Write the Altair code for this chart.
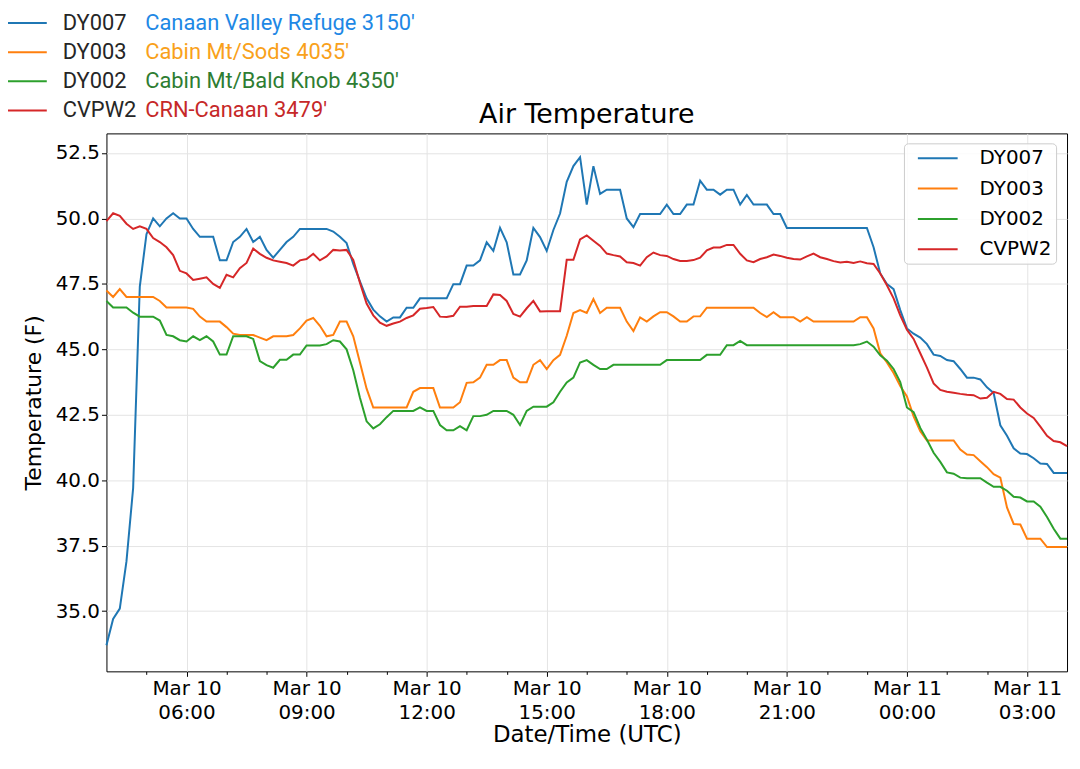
import pandas as pd
import altair as alt

# stations, in plotting order
stations = ["DY007", "DY003", "DY002", "CVPW2"]
descriptions = ["Canaan Valley Refuge 3150'", "Cabin Mt/Sods 4035'",
                "Cabin Mt/Bald Knob 4350'", "CRN-Canaan 3479'"]
line_colors = ["#1f77b4", "#ff7f0e", "#2ca02c", "#d62728"]
desc_colors = ["#1e88e5", "#f9a11b", "#2e7d32", "#c62828"]
chart_title = "Air Temperature"

# 10-minute readings, Mar 10 04:00 UTC .. Mar 11 04:00 UTC
dy007 = [
    33.7, 34.7, 35.1, 36.9, 39.7, 47.4, 49.4, 50.0, 49.7, 50.0, 50.2, 50.0,
    50.0, 49.6, 49.3, 49.3, 49.3, 48.4, 48.4, 49.1, 49.3, 49.6, 49.1, 49.3,
    48.8, 48.5, 48.8, 49.1, 49.3, 49.6, 49.6, 49.6, 49.6, 49.6, 49.5, 49.3,
    49.06, 48.26, 47.6, 46.95, 46.52, 46.26, 46.06, 46.22, 46.22, 46.59, 46.59, 46.95,
    46.95, 46.95, 46.95, 46.95, 47.49, 47.49, 48.2, 48.2, 48.4, 49.09, 48.76, 49.64,
    49.09, 47.86, 47.86, 48.4, 49.64, 49.29, 48.76, 49.56, 50.19, 51.4, 52.0, 52.34,
    50.53, 52.0, 50.94, 51.1, 51.1, 51.1, 50.0, 49.67, 50.17, 50.17, 50.17, 50.17,
    50.53, 50.17, 50.17, 50.53, 50.53, 51.44, 51.1, 51.1, 50.91, 51.1, 51.1, 50.53,
    50.9, 50.53, 50.53, 50.53, 50.17, 50.17, 49.64, 49.64, 49.64, 49.64, 49.64, 49.64,
    49.64, 49.64, 49.64, 49.64, 49.64, 49.64, 49.64, 48.9, 47.9, 47.5, 47.3, 46.5,
    45.8, 45.6, 45.45, 45.2, 44.8, 44.75, 44.59, 44.55, 44.25, 43.92, 43.92, 43.85,
    43.55, 43.33, 42.1, 41.7, 41.22, 41.02, 41.0, 40.84, 40.64, 40.62, 40.28, 40.28,
    40.28,
]
dy003 = [
    47.25, 47.0, 47.3, 47.0, 47.0, 47.0, 47.0, 47.0, 46.85, 46.6, 46.6, 46.6,
    46.6, 46.55, 46.25, 46.06, 46.06, 46.06, 45.85, 45.6, 45.55, 45.55, 45.55, 45.45,
    45.35, 45.5, 45.5, 45.5, 45.55, 45.8, 46.1, 46.2, 45.9, 45.5, 45.55, 46.06,
    46.06, 45.5, 44.5, 43.5, 42.78, 42.78, 42.78, 42.78, 42.78, 42.78, 43.38, 43.52,
    43.52, 43.52, 42.78, 42.78, 42.78, 42.98, 43.72, 43.74, 43.92, 44.41, 44.41, 44.59,
    44.59, 43.92, 43.74, 43.74, 44.41, 44.59, 44.25, 44.59, 44.79, 45.52, 46.39, 46.5,
    46.39, 46.92, 46.39, 46.59, 46.59, 46.59, 46.06, 45.7, 46.22, 46.06, 46.26, 46.42,
    46.42, 46.26, 46.06, 46.06, 46.26, 46.26, 46.59, 46.59, 46.59, 46.59, 46.59, 46.59,
    46.59, 46.59, 46.39, 46.23, 46.42, 46.23, 46.23, 46.23, 46.06, 46.23, 46.06, 46.06,
    46.06, 46.06, 46.06, 46.06, 46.06, 46.23, 46.23, 45.8, 44.85, 44.5, 44.1, 43.6,
    43.2, 42.44, 41.87, 41.52, 41.52, 41.52, 41.52, 41.52, 41.17, 40.98, 40.96, 40.73,
    40.5, 40.23, 40.1, 38.96, 38.33, 38.31, 37.77, 37.77, 37.77, 37.45, 37.45, 37.45,
    37.45,
]
dy002 = [
    46.85, 46.6, 46.6, 46.6, 46.4, 46.25, 46.25, 46.25, 46.1, 45.55, 45.5, 45.35,
    45.3, 45.5, 45.35, 45.5, 45.3, 44.8, 44.8, 45.5, 45.5, 45.5, 45.4, 44.55,
    44.4, 44.3, 44.6, 44.6, 44.8, 44.8, 45.15, 45.15, 45.15, 45.2, 45.35, 45.3,
    45.0, 44.2, 43.15, 42.25, 41.98, 42.14, 42.41, 42.65, 42.65, 42.65, 42.65, 42.78,
    42.65, 42.65, 42.11, 41.91, 41.91, 42.07, 41.91, 42.45, 42.45, 42.5, 42.65, 42.65,
    42.65, 42.5, 42.11, 42.65, 42.81, 42.81, 42.81, 42.98, 43.38, 43.74, 43.92, 44.5,
    44.59, 44.41, 44.25, 44.25, 44.41, 44.41, 44.41, 44.41, 44.41, 44.41, 44.41, 44.41,
    44.59, 44.59, 44.59, 44.59, 44.59, 44.59, 44.79, 44.79, 44.79, 45.16, 45.16, 45.32,
    45.16, 45.16, 45.16, 45.16, 45.16, 45.16, 45.16, 45.16, 45.16, 45.16, 45.16, 45.16,
    45.16, 45.16, 45.16, 45.16, 45.16, 45.2, 45.3, 45.1, 44.77, 44.57, 44.25, 43.75,
    42.78, 42.6, 42.0, 41.55, 41.05, 40.7, 40.3, 40.25, 40.1, 40.08, 40.08, 40.08,
    39.91, 39.75, 39.75, 39.6, 39.37, 39.34, 39.19, 39.19, 38.99, 38.6, 38.15, 37.77,
    37.77,
]
cvpw2 = [
    49.9, 50.2, 50.1, 49.8, 49.6, 49.7, 49.6, 49.25, 49.1, 48.9, 48.6, 48.0,
    47.9, 47.65, 47.7, 47.75, 47.5, 47.35, 47.85, 47.75, 48.1, 48.3, 48.85, 48.65,
    48.5, 48.4, 48.35, 48.3, 48.2, 48.4, 48.45, 48.65, 48.4, 48.55, 48.8, 48.78,
    48.8, 48.42, 47.55, 46.75, 46.3, 46.02, 45.9, 45.99, 46.06, 46.2, 46.3, 46.55,
    46.58, 46.62, 46.25, 46.24, 46.28, 46.63, 46.63, 46.66, 46.66, 46.66, 47.1, 47.08,
    46.85, 46.35, 46.25, 46.57, 46.85, 46.45, 46.46, 46.46, 46.46, 48.42, 48.42, 49.2,
    49.35, 49.15, 48.95, 48.66, 48.6, 48.55, 48.33, 48.3, 48.2, 48.52, 48.7, 48.6,
    48.57, 48.45, 48.38, 48.38, 48.41, 48.5, 48.78, 48.89, 48.89, 48.99, 48.99, 48.65,
    48.4, 48.33, 48.45, 48.52, 48.62, 48.57, 48.5, 48.45, 48.43, 48.55, 48.66, 48.52,
    48.45, 48.37, 48.32, 48.35, 48.3, 48.36, 48.29, 48.26, 47.9, 47.45, 46.95, 46.3,
    45.75, 45.4, 44.85, 44.3, 43.7, 43.45, 43.38, 43.34, 43.3, 43.27, 43.25, 43.12,
    43.15, 43.38, 43.3, 43.1, 43.08, 42.78, 42.55, 42.38, 42.05, 41.7, 41.5, 41.45,
    41.3,
]

y_ticks = [35.0, 37.5, 40.0, 42.5, 45.0, 47.5, 50.0, 52.5]

times = pd.date_range("2018-03-10 04:00", "2018-03-11 04:00", freq="10min")
series = dict(zip(stations, [dy007, dy003, dy002, cvpw2]))

rows = []
for st in stations:
    for t, v in zip(times, series[st]):
        rows.append({"time": t.strftime("%Y-%m-%dT%H:%M:%SZ"), "station": st, "temp": v})
df = pd.DataFrame(rows)

header = pd.DataFrame({"station": stations, "desc": descriptions})


def utc(ts):
    return alt.DateTime(year=ts.year, month=ts.month, date=ts.day,
                        hours=ts.hour, minutes=ts.minute, utc=True)


hour_ticks = [utc(t) for t in times[6:-1:6]]
major = "utchours(datum.value) % 3 == 0"
GRID = "#e4e4e4"
W, H = 966, 541

x_axis = alt.Axis(
    values=hour_ticks,
    labelExpr=f"{major} ? [utcFormat(datum.value, '%b %d'), utcFormat(datum.value, '%H:%M')] : ''",
    tickSize={"condition": {"test": major, "value": 5}, "value": 3},
    gridOpacity={"condition": {"test": major, "value": 1}, "value": 0},
    labelOverlap=False, labelFlush=False, domain=False,
    labelFontSize=20, labelLineHeight=24, labelPadding=2, labelColor="black",
    tickColor="black", gridColor=GRID,
    title="Date/Time (UTC)", titleFontSize=23, titlePadding=2,
    titleFontWeight="normal", titleColor="black",
)
y_axis = alt.Axis(
    values=y_ticks, format=".1f", domain=False,
    labelFontSize=20, labelPadding=2, labelColor="black",
    tickSize=5, tickColor="black", gridColor=GRID,
    title="Temperature (F)", titleFontSize=22, titlePadding=10,
    titleFontWeight="normal", titleColor="black",
)

legend = alt.Legend(
    title=None, orient="none", legendX=802, legendY=10,
    labelFontSize=20, labelFont="DejaVu Sans", labelColor="black",
    labelExpr="datum.label + '    '",
    symbolType="M-2,0H2", symbolSize=400, symbolStrokeWidth=2,
    symbolOffset=19, labelOffset=31, rowPadding=9.5, padding=4,
    fillColor="rgba(255,255,255,0.85)", strokeColor="#cccccc", cornerRadius=4,
)

lines = alt.Chart(df).mark_line(strokeWidth=2).encode(
    x=alt.X("time:T", axis=x_axis,
            scale=alt.Scale(type="utc", nice=False,
                            domain=[utc(times[0]), utc(times[-1])])),
    y=alt.Y("temp:Q", axis=y_axis,
            scale=alt.Scale(domain=[32.7, 53.25], nice=False, zero=False)),
    color=alt.Color("station:N", sort=stations, legend=legend,
                    scale=alt.Scale(domain=stations, range=line_colors)),
)

# key above the plot
hdr_y = alt.Y("station:N", sort=stations, axis=None,
              scale=alt.Scale(type="point", domain=stations, range=[-111, -23], padding=0))

hdr_lines = alt.Chart(header).mark_rule(strokeWidth=2).encode(
    x=alt.value(-102), x2=alt.value(-60), y=hdr_y,
    color=alt.Color("station:N", legend=None,
                    scale=alt.Scale(domain=stations, range=line_colors)),
)
hdr_ids = alt.Chart(header).mark_text(
    align="left", baseline="middle", font="Roboto", fontSize=22, color="#262626"
).encode(x=alt.value(-44), y=hdr_y, text="station:N")
hdr_desc = alt.Chart(header).mark_text(
    align="left", baseline="middle", font="Roboto", fontSize=22
).encode(
    x=alt.value(39), y=hdr_y, text="desc:N",
    color=alt.Color("station:N", legend=None,
                    scale=alt.Scale(domain=stations, range=desc_colors)),
)

# plot title, centred over the plot area
title = alt.Chart(pd.DataFrame({"title": [chart_title]})).mark_text(
    align="center", baseline="bottom", font="DejaVu Sans", fontSize=27, color="black"
).encode(x=alt.value(W / 2), y=alt.value(-4), text="title:N")

chart = alt.layer(lines, hdr_lines, hdr_ids, hdr_desc, title).resolve_scale(
    y="independent", color="independent"
).properties(
    width=W, height=H,
    autosize=alt.AutoSizeParams(type="none"),
    padding={"left": 99, "top": 124, "right": 5, "bottom": 80},
    background="white",
).configure_view(
    stroke="black", strokeWidth=1
).configure_axis(
    labelFont="DejaVu Sans", titleFont="DejaVu Sans"
)

chart.save("out.html", embed_options={"renderer": "svg", "actions": False})
